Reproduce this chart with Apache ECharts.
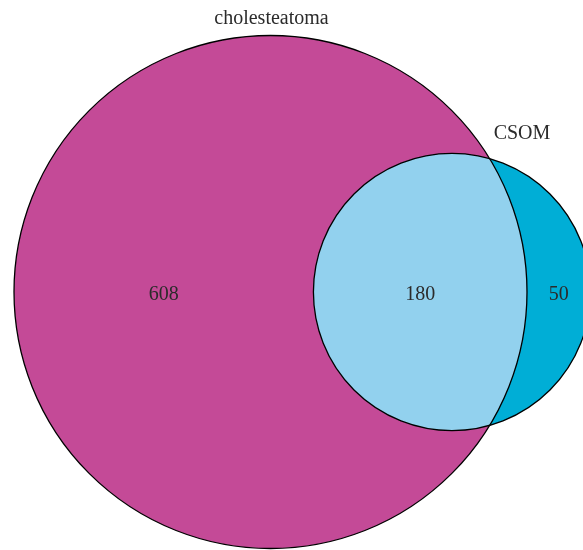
<!DOCTYPE html>
<html>
<head>
<meta charset="utf-8">
<script src="https://cdn.jsdelivr.net/npm/echarts@6/dist/echarts.min.js"></script>
<style>
  html, body { margin: 0; padding: 0; background: #ffffff; }
  #chart { width: 583px; height: 550px; }
</style>
</head>
<body>
<div id="chart"></div>
<script>
// ---- data ----
const setNames = ['cholesteatoma', 'CSOM'];
const regionNames = ['cholesteatoma only', 'CSOM only', 'cholesteatoma & CSOM'];
const regionValues = [608, 50, 180];

// ---- geometry derived from values (area-proportional Venn) ----
const areaA = regionValues[0] + regionValues[2];
const areaB = regionValues[1] + regionValues[2];
const areaAB = regionValues[2];
const rA = Math.sqrt(areaA / Math.PI);
const rB = Math.sqrt(areaB / Math.PI);

function lensArea(r1, r2, d) {
  if (d >= r1 + r2) return 0;
  if (d <= Math.abs(r1 - r2)) return Math.PI * Math.min(r1, r2) ** 2;
  const a1 = Math.acos((d * d + r1 * r1 - r2 * r2) / (2 * d * r1));
  const a2 = Math.acos((d * d + r2 * r2 - r1 * r1) / (2 * d * r2));
  const k = Math.sqrt((-d + r1 + r2) * (d + r1 - r2) * (d - r1 + r2) * (d + r1 + r2));
  return r1 * r1 * a1 + r2 * r2 * a2 - 0.5 * k;
}
let lo = Math.abs(rA - rB), hi = rA + rB;
for (let i = 0; i < 100; i++) {
  const mid = (lo + hi) / 2;
  if (lensArea(rA, rB, mid) > areaAB) lo = mid; else hi = mid;
}
const dist = (lo + hi) / 2;
const ax = (dist * dist + rA * rA - rB * rB) / (2 * dist);
const hh = Math.sqrt(Math.max(0, rA * rA - ax * ax));

// ---- view (pixel layout) ----
const W = 583, H = 550;
const pxR = 256.5, pxCx = 270.5, pxCy = 292;
const s = pxR / rA;
const xMin = -pxCx / s, xMax = (W - pxCx) / s;
const yMax = pxCy / s, yMin = -(H - pxCy) / s;

const COLORS = ['#c44a97', '#00aed6', '#92d1ee'];
const FONT = '"Liberation Serif", "DejaVu Serif", serif';
const TXT = '#2b2b2b';

function lensPoints(api) {
  const pts = [];
  const tA = Math.atan2(hh, ax);
  const N = 120;
  for (let i = 0; i <= N; i++) {
    const t = tA - (2 * tA) * i / N;
    pts.push(api.coord([rA * Math.cos(t), rA * Math.sin(t)]));
  }
  const phi = Math.atan2(hh, ax - dist);
  for (let i = 0; i <= N; i++) {
    const t = -phi - (2 * Math.PI - 2 * phi) * i / N;
    pts.push(api.coord([dist + rB * Math.cos(t), rB * Math.sin(t)]));
  }
  return pts;
}

function renderRegion(params, api) {
  const idx = params.dataIndex;
  if (idx === 0) {
    const c = api.coord([0, 0]);
    const r = api.size([rA, 0])[0];
    return { type: 'circle', shape: { cx: c[0], cy: c[1], r: r }, style: { fill: COLORS[0] } };
  }
  if (idx === 1) {
    const c = api.coord([dist, 0]);
    const r = api.size([rB, 0])[0];
    return { type: 'circle', shape: { cx: c[0], cy: c[1], r: r }, style: { fill: COLORS[1] } };
  }
  return { type: 'polygon', shape: { points: lensPoints(api) }, style: { fill: COLORS[2] } };
}

function renderOutline(params, api) {
  const idx = params.dataIndex;
  const cxu = idx === 0 ? 0 : dist;
  const ru = idx === 0 ? rA : rB;
  const c = api.coord([cxu, 0]);
  const r = api.size([ru, 0])[0];
  return { type: 'circle', shape: { cx: c[0], cy: c[1], r: r },
           style: { fill: 'none', stroke: '#000', lineWidth: 1.3 } };
}

// region label positions: midpoints of each region along the centre line
const regionLabelX = [
  (-rA + (dist - rB)) / 2,
  (rA + (dist + rB)) / 2,
  ((dist - rB) + rA) / 2
];

function renderText(params, api) {
  const idx = params.dataIndex;
  if (idx < 3) {
    const p = api.coord([regionLabelX[idx], 0]);
    return { type: 'text', style: { x: p[0], y: p[1] + 3, text: String(regionValues[idx]),
      font: '20px ' + FONT, fill: TXT, align: 'center', verticalAlign: 'middle' } };
  }
  if (idx === 3) {
    const p = api.coord([0, rA]);
    return { type: 'text', style: { x: p[0] + 1, y: p[1] - 17, text: setNames[0],
      font: '20px ' + FONT, fill: TXT, align: 'center', verticalAlign: 'middle' } };
  }
  const c = api.coord([dist, 0]);
  return { type: 'text', style: { x: c[0] + 70, y: c[1] - 158, text: setNames[1],
    font: '20px ' + FONT, fill: TXT, align: 'center', verticalAlign: 'middle' } };
}

const chart = echarts.init(document.getElementById('chart'), null, { renderer: 'canvas' });
chart.setOption({
  animation: false,
  backgroundColor: '#ffffff',
  grid: { left: 0, right: 0, top: 0, bottom: 0 },
  xAxis: { type: 'value', min: xMin, max: xMax, show: false },
  yAxis: { type: 'value', min: yMin, max: yMax, show: false },
  series: [
    { type: 'custom', renderItem: renderRegion, clip: true,
      data: regionNames.map((n, i) => ({ name: n, value: [i, regionValues[i]] })) },
    { type: 'custom', renderItem: renderOutline, clip: true,
      data: setNames.map((n, i) => ({ name: n, value: [i, i === 0 ? areaA : areaB] })) },
    { type: 'custom', renderItem: renderText, clip: false,
      data: [0, 1, 2, 3, 4].map(i => ({ value: [i, 0] })) }
  ]
});
</script>
</body>
</html>
